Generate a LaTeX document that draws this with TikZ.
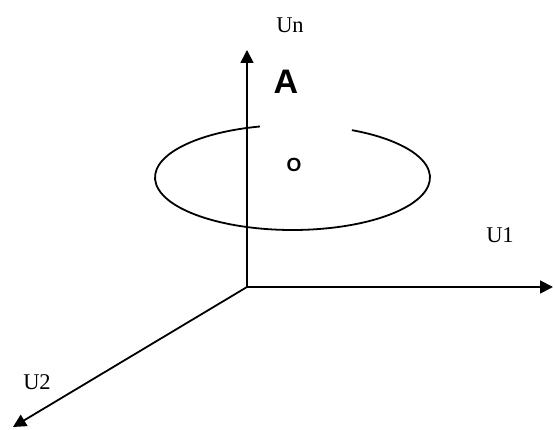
\documentclass[tikz,border=0pt]{standalone}
\usepackage{fontspec}
\setmainfont{Liberation Serif}
\newfontfamily\arialfont{Liberation Sans}
\usetikzlibrary{arrows.meta}
\begin{document}
\begin{tikzpicture}[x=1pt,y=1pt,
  axis/.style={line width=1.8pt,-{Triangle[length=13pt,width=13pt]}},
  axlabel/.style={font=\fontsize{22.5}{22.5}\selectfont},
  ring/.style={line width=1.8pt}]
\useasboundingbox (0,0) rectangle (555,430);
\coordinate (o) at (247,143);
\coordinate (n) at (247,380);
\coordinate (e1) at (553,143);
\coordinate (e2) at (13,3);
\coordinate (c) at (292.5,252.5);
\draw[ring] ([shift={(103.7:137.5 and 52.5)}]c) arc[start angle=103.7,end angle=424.4,x radius=137.5,y radius=52.5];
\draw[axis] (o) -- (n);
\draw[axis] (o) -- (e1);
\draw[axis] (o) -- (e2);
\node[axlabel] (un) at (290,405) {Un};
\node[axlabel] (u1) at (500,195) {U1};
\node[axlabel] (u2) at (37,48) {U2};
\node[font=\arialfont\bfseries\fontsize{34}{34}\selectfont] (a) at (286,348) {A};
\node[font=\arialfont\bfseries\fontsize{19}{19}\selectfont] (olab) at (294,265) {O};
\end{tikzpicture}
\end{document}
